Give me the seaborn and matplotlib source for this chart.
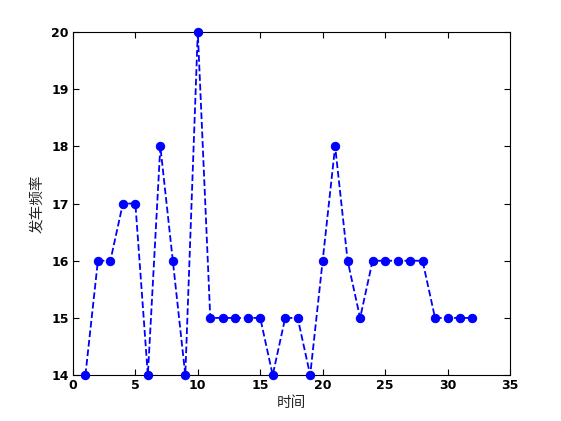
import matplotlib
matplotlib.use("Agg")
import matplotlib.pyplot as plt
import seaborn as sns
import pandas as pd

time = list(range(1, 33))
freq = [14, 16, 16, 17, 17, 14, 18, 16, 14, 20, 15, 15, 15, 15, 15, 14,
        15, 15, 14, 16, 18, 16, 15, 16, 16, 16, 16, 16, 15, 15, 15, 15]
xticks = [0, 5, 10, 15, 20, 25, 30, 35]
yticks = [14, 15, 16, 17, 18, 19, 20]

sns.set_style("white")
plt.rcParams['font.family'] = ['Noto Sans CJK SC', 'DejaVu Sans']

df = pd.DataFrame({"时间": time, "发车频率": freq})

fig = plt.figure(figsize=(5.61, 4.21), dpi=100)
ax = fig.add_axes([0.130, 0.109, 0.779, 0.815])
sns.lineplot(data=df, x="时间", y="发车频率", ax=ax, color="#0000ff",
             linestyle="--", linewidth=1.3, marker="o", markersize=6,
             markeredgecolor="#0000ff", markerfacecolor="#0000ff",
             clip_on=False, zorder=5)
ax.set_xlim(0, 35)
ax.set_ylim(14, 20)
ax.set_xticks(xticks)
ax.set_yticks(yticks)
ax.set_xticklabels([str(t) for t in xticks], fontsize=9, fontweight="bold", family="DejaVu Sans")
ax.set_yticklabels([str(t) for t in yticks], fontsize=9, fontweight="bold", family="DejaVu Sans")
ax.tick_params(direction="in", length=4, width=0.8, top=True, right=True,
               bottom=True, left=True, colors="black", pad=3)
for s in ax.spines.values():
    s.set_color("black")
    s.set_linewidth(0.8)
    s.set_visible(True)
ax.set_xlabel("时间", fontsize=10.5, labelpad=3)
ax.set_ylabel("发车频率", fontsize=10.5, labelpad=5)
ax.grid(False)
fig.savefig("out.png", dpi=100, facecolor="white")
